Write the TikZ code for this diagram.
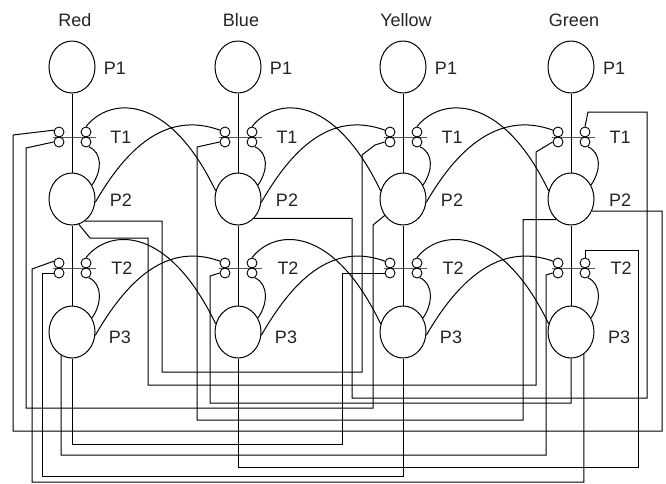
\documentclass[tikz,border=0pt]{standalone}
\usepackage{fontspec}
\setmainfont{Liberation Sans}
\usetikzlibrary{shapes.geometric}
\definecolor{netText}{RGB}{35,35,45}

\begin{document}
\begin{tikzpicture}[
  x=1pt, y=-1pt,
  font=\fontsize{18}{20}\selectfont,
  line width=1pt,
  place/.style={ellipse, draw, minimum width=46pt, minimum height=52pt, inner sep=0pt},
  tok/.style={circle, draw, minimum size=10pt, inner sep=0pt, line width=0.9pt},
  tbar/.style={rectangle, draw, minimum width=43pt, minimum height=0pt, inner sep=0pt},
  lbl/.style={text=netText, inner sep=0pt}
]
\useasboundingbox (0,0) rectangle (666,483);
% one column per colour: P1 -> T1 -> P2 -> T2 -> P3
\foreach \n/\x/\lab in {R/72/Red, B/238/Blue, Y/403/Yellow, G/571/Green} {
  \node[lbl] (\n-name) at (\x+3,20) {\lab};
  \node[place] (\n-P1) at (\x,67) {};
  \node[place] (\n-P2) at (\x,199) {};
  \node[place] (\n-P3) at (\x,332) {};
  \node[tbar] (\n-T1) at (\x+2.5,137) {};
  \node[tbar] (\n-T2) at (\x+2.5,268) {};
  \foreach \t/\y in {T1/137, T2/268} {
    \node[tok] (\n-\t-a) at (\x-13,\y-5) {};
    \node[tok] (\n-\t-b) at (\x-13,\y+5) {};
    \node[tok] (\n-\t-c) at (\x+14,\y-5) {};
    \node[tok] (\n-\t-d) at (\x+14,\y+5) {};
  }
  \node[lbl] (\n-lP1) at (\x+43,68) {P1};
  \node[lbl] (\n-lT1) at (\x+49,137) {T1};
  \node[lbl] (\n-lP2) at (\x+49,200) {P2};
  \node[lbl] (\n-lT2) at (\x+50,268) {T2};
  \node[lbl] (\n-lP3) at (\x+48,337) {P3};
  \draw (\n-P1) -- (\n-P2);
  \draw (\n-P2) -- (\n-P3);
  % self loops
  \draw (\n-T1-d.-60) .. controls +(14,6) and +(10,-14) .. (\n-P2.35);
  \draw (\n-T2-d.-60) .. controls +(14,6) and +(10,-14) .. (\n-P3.35);
}
% arcs to the next column
\foreach \n/\m in {R/B, B/Y, Y/G} {
  \draw (\n-T1-c.north) .. controls +(24,-30) and +(-47,-98) .. (\m-P2.160);
  \draw (\n-P2.-8) .. controls +(30,-52) and +(-55,-20) .. (\m-T1-a.160);
  \draw (\n-T2-c.north) .. controls +(24,-30) and +(-47,-98) .. (\m-P3.160);
  \draw (\n-P3.-8) .. controls +(30,-52) and +(-55,-20) .. (\m-T2-a.160);
}
% wires round the bottom
\draw (G-P2.-30) -| (662,431) -| (13,135) -- (R-T1-a.160);
\draw (Y-P2.222) -- (373,225) |- (26,408) -- (26,148) -- (R-T1-b.west);
\draw (G-P3.-60) |- (32,482) -- (32,269) -- (R-T2-a.160);
\draw (Y-P3.south) |- (42,476) |- (R-T2-b.west);
\draw (R-P2.-75) -- (90,238) -| (148,385) -| (536,152) -- (G-T1-b.west);
\draw (R-P2.-60) -| (162,372) -| (362,155) -- (375,145) -- (Y-T1-b.west);
\draw (B-P2.-50) -| (352,398) -| (647,112) -- (588,112) -- (G-T1-c.north);
\draw (R-P3.south) |- (342,444) |- (Y-T2-b.west);
\draw (R-P3.-115) |- (546,455) -- (546,275) -- (G-T2-b.west);
\draw (B-P3.south) |- (638,467) |- (585,250) -- (G-T2-c.north);
\draw (G-P3.south) |- (210,403) -- (210,276) -- (B-T2-b.west);
\draw (G-P2.-126) -| (523,420) -| (197,147) -- (B-T1-b.west);
\end{tikzpicture}
\end{document}
